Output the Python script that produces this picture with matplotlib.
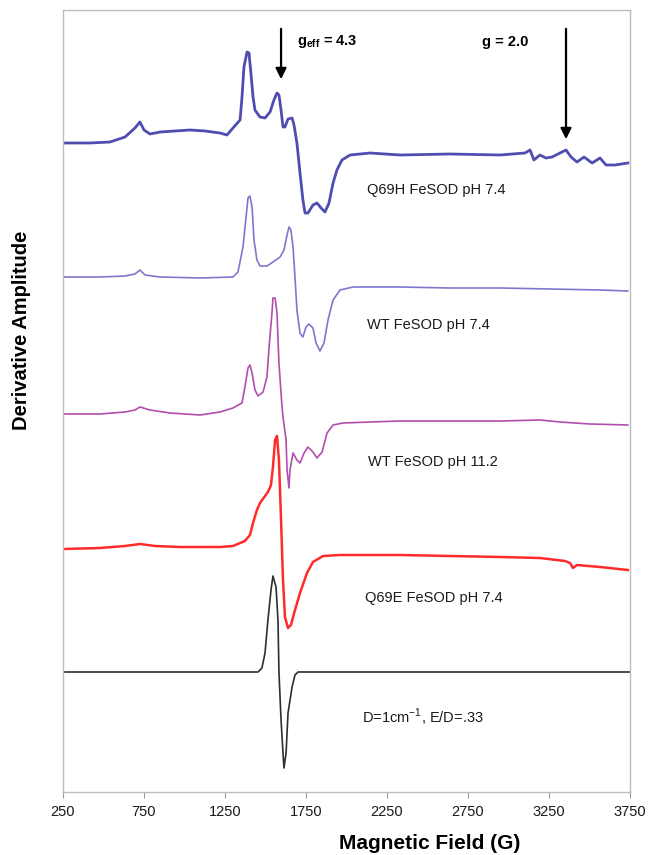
import matplotlib
matplotlib.use("Agg")
import matplotlib.pyplot as plt

plt.rcParams['font.family'] = ['Liberation Sans', 'DejaVu Sans']
plt.rcParams['mathtext.fontset'] = 'custom'
plt.rcParams['mathtext.rm'] = 'Liberation Sans'
plt.rcParams['mathtext.bf'] = 'Liberation Sans:bold'

# field (G) and derivative amplitude (arb. units, offsets included)
q69h_field = [250, 417, 540, 633, 694, 725, 750, 787, 849, 941, 1034, 1127, 1219, 1262, 1299,
              1343, 1355, 1367, 1386, 1398, 1410, 1423, 1435, 1466, 1497, 1528, 1552, 1571,
              1583, 1596, 1608, 1620, 1639, 1664, 1676, 1694, 1713, 1731, 1744, 1762, 1793,
              1818, 1843, 1867, 1892, 1917, 1941, 1972, 2022, 2145, 2330, 2639, 2948, 3102,
              3133, 3157, 3194, 3231, 3269, 3318, 3355, 3386, 3423, 3466, 3516, 3565, 3602,
              3657, 3737]
q69h_amp = [649, 649, 650, 655, 664, 670, 662, 658, 660, 661, 662, 661, 659, 657, 664,
            672, 695, 725, 740, 739, 719, 695, 682, 675, 674, 680, 692, 699,
            697, 682, 665, 665, 673, 674, 667, 649, 619, 592, 579, 579, 587,
            589, 584, 580, 589, 609, 622, 632, 637, 639, 637, 638, 637, 639,
            642, 632, 637, 634, 635, 639, 642, 635, 630, 635, 629, 634, 627,
            627, 629]

wt74_field = [250, 478, 633, 694, 725, 756, 849, 1096, 1299, 1330, 1361, 1380, 1392, 1404,
              1417, 1429, 1447, 1466, 1509, 1546, 1590, 1614, 1633, 1645, 1657, 1670, 1682,
              1694, 1713, 1731, 1750, 1768, 1793, 1812, 1836, 1861, 1886, 1917, 1960, 2040,
              2330, 2639, 2948, 3256, 3565, 3737]
wt74_amp = [515, 515, 516, 518, 522, 517, 515, 514, 515, 520, 545, 575, 594, 596,
            585, 552, 532, 526, 526, 530, 535, 542, 557, 565, 562, 545, 515,
            482, 459, 455, 465, 468, 464, 449, 441, 449, 472, 492, 502, 505,
            505, 504, 504, 503, 502, 501]

wt112_field = [250, 478, 633, 694, 725, 787, 910, 1096, 1219, 1299, 1355, 1373, 1392, 1404,
               1417, 1435, 1454, 1485, 1509, 1522, 1540, 1546, 1559, 1571, 1583, 1602, 1608,
               1627, 1633, 1645, 1651, 1670, 1694, 1713, 1738, 1762, 1793, 1818, 1849, 1880,
               1917, 1978, 2145, 2330, 2639, 2948, 3194, 3318, 3503, 3737]
wt112_amp = [378, 378, 380, 382, 385, 382, 379, 377, 380, 384, 389, 405, 424, 427,
             419, 402, 396, 400, 415, 445, 479, 494, 494, 479, 429, 385, 375,
             352, 322, 304, 322, 339, 332, 329, 339, 345, 340, 334, 340, 359,
             367, 369, 370, 371, 371, 371, 372, 370, 368, 367]

q69e_field = [250, 478, 633, 725, 818, 972, 1096, 1219, 1299, 1373, 1404, 1423, 1447, 1466,
              1497, 1515, 1534, 1546, 1559, 1571, 1583, 1596, 1608, 1620, 1639, 1657, 1682,
              1713, 1756, 1793, 1855, 1960, 2330, 2639, 2948, 3194, 3349, 3380, 3398, 3423,
              3565, 3737]
q69e_amp = [243, 244, 246, 248, 246, 245, 245, 245, 246, 251, 257, 269, 282, 289,
            296, 300, 307, 325, 352, 356, 332, 272, 212, 175, 164, 167, 182,
            199, 219, 230, 236, 237, 237, 236, 235, 234, 231, 229, 224, 227,
            225, 222]

sim_field = [250, 725, 1454, 1478, 1497, 1515, 1534, 1546, 1565, 1577, 1583, 1596, 1608,
             1614, 1627, 1639, 1664, 1682, 1701, 3750]
sim_amp = [120, 120, 120, 124, 139, 172, 202, 216, 205, 172, 120, 72, 39,
           24, 39, 79, 105, 117, 120, 120]

trace_labels = ['Q69H FeSOD pH 7.4', 'WT FeSOD pH 7.4', 'WT FeSOD pH 11.2', 'Q69E FeSOD pH 7.4']
x_ticks = [250, 750, 1250, 1750, 2250, 2750, 3250, 3750]

fig = plt.figure(figsize=(6.52, 8.55), dpi=100)
ax = fig.add_axes([63/652, 1 - 792/855, 567/652, 782/855])

ax.plot(q69h_field, q69h_amp, color='#4f4db0', lw=2.0, solid_joinstyle='round')
ax.plot(wt74_field, wt74_amp, color='#7c78cc', lw=1.2, solid_joinstyle='round')
ax.plot(wt112_field, wt112_amp, color='#b24eae', lw=1.2, solid_joinstyle='round')
ax.plot(q69e_field, q69e_amp, color='#ff2b2b', lw=1.8, solid_joinstyle='round')
ax.plot(sim_field, sim_amp, color='#2e2e2e', lw=1.2, solid_joinstyle='round')

# labels next to each trace
ax.text(2127, 602, trace_labels[0], fontsize=10.5, va='center', color='#1a1a1a')
ax.text(2127, 467, trace_labels[1], fontsize=10.5, va='center', color='#1a1a1a')
ax.text(2133, 330, trace_labels[2], fontsize=10.5, va='center', color='#1a1a1a')
ax.text(2114, 194, trace_labels[3], fontsize=10.5, va='center', color='#1a1a1a')
ax.text(2096, 75, r'D=1cm$^{\mathregular{-1}}$, E/D=.33', fontsize=10.5, va='center', color='#1a1a1a')

# g-value arrows
ax.annotate('', xy=(1596, 710), xytext=(1596, 766),
            arrowprops=dict(arrowstyle='-|>', color='black', lw=1.6, mutation_scale=16))
ax.text(1694, 750, r'g$_{\mathregular{eff}}$ = 4.3', fontsize=10.5, fontweight='bold', va='center')
ax.annotate('', xy=(3355, 650), xytext=(3355, 766),
            arrowprops=dict(arrowstyle='-|>', color='black', lw=1.6, mutation_scale=16))
ax.text(2837, 750, 'g = 2.0', fontsize=10.5, fontweight='bold', va='center')

ax.set_xlim(250, 3750)
ax.set_ylim(0, 782)
ax.set_xticks(x_ticks)
ax.set_yticks([])
ax.tick_params(axis='x', direction='out', length=4, color='#9a9a9a', labelsize=10.5,
               labelcolor='#1a1a1a', pad=5)
for s in ax.spines.values():
    s.set_color('#bdbdbd')
    s.set_linewidth(1.0)

fig.text(430/652, 1 - 843/855, 'Magnetic Field (G)', fontsize=15, fontweight='bold',
         ha='center', va='center')
fig.text(22/652, 1 - 330/855, 'Derivative Amplitude', fontsize=14.5, fontweight='bold',
         ha='center', va='center', rotation=90)

fig.savefig('out.png', dpi=100)
